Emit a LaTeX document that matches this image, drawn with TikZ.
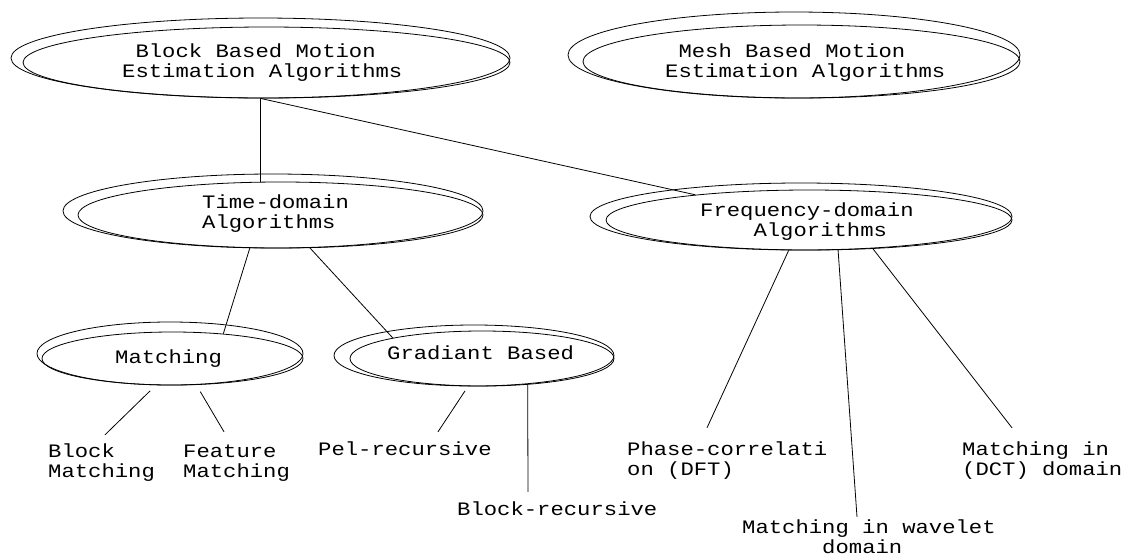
\documentclass[tikz,border=0pt]{standalone}
\usepackage{fontspec}
\usetikzlibrary{shapes.geometric}
\newfontfamily\lblfont{Liberation Mono}[FakeStretch=1.17]
\newcommand\txtrows[1]{\begin{tabular}[t]{@{}l@{}}#1\end{tabular}}
\tikzset{
  ell/.style={draw, ellipse, inner sep=0pt, line width=0.8pt},
  lbl/.style={anchor=base west, inner sep=0pt, font=\lblfont\fontsize{19}{20}\selectfont},
  link/.style={line width=0.8pt},
}
\begin{document}
\begin{tikzpicture}[x=1pt,y=-1pt]
\useasboundingbox (0,0) rectangle (1128,558);

% double ellipses: outer ring and inner ring
\node[ell, minimum width=499pt, minimum height=80pt] (A)  at (260.5,58) {};
\node[ell, minimum width=487pt, minimum height=71pt] (Ai) at (266.5,62.5) {};
\node[ell, minimum width=452pt, minimum height=86pt] (B)  at (794,55) {};
\node[ell, minimum width=437pt, minimum height=73pt] (Bi) at (801.5,61.5) {};
\node[ell, minimum width=420pt, minimum height=74pt] (C)  at (273,211) {};
\node[ell, minimum width=405pt, minimum height=66pt] (Ci) at (280.5,215) {};
\node[ell, minimum width=422pt, minimum height=67pt] (D)  at (801,216.5) {};
\node[ell, minimum width=406pt, minimum height=60pt] (Di) at (809,220) {};
\node[ell, minimum width=266pt, minimum height=63pt] (E)  at (170,353.5) {};
\node[ell, minimum width=261pt, minimum height=53pt] (Ei) at (172.5,358.5) {};
\node[ell, minimum width=280pt, minimum height=61pt] (F)  at (474,355.5) {};
\node[ell, minimum width=264pt, minimum height=55pt] (Fi) at (482,358.5) {};

% ellipse texts
\node[lbl] (At) at (122,57) {\txtrows{\phantom{E}Block Based Motion\\Estimation Algorithms}};
\node[lbl] (Bt) at (665,57) {\txtrows{\phantom{E}Mesh Based Motion\\Estimation Algorithms}};
\node[lbl] (Ct) at (202,208) {\txtrows{Time-domain\\Algorithms}};
\node[lbl] (Dt) at (700,216) {\txtrows{Frequency-domain\\\phantom{XXXX}Algorithms}};
\node[lbl] (Et) at (115,363) {\txtrows{Matching}};
\node[lbl] (Ft) at (387,359) {\txtrows{Gradiant Based}};

% leaf texts
\node[lbl] (bm)   at (48,457)  {\txtrows{Block\\Matching}};
\node[lbl] (fm)   at (183,457) {\txtrows{Feature\\Matching}};
\node[lbl] (pel)  at (318,455) {\txtrows{Pel-recursive}};
\node[lbl] (brec) at (457,515) {\txtrows{Block-recursive}};
\node[lbl] (ph)   at (627,455) {\txtrows{Phase-correlati\\on (DFT)}};
\node[lbl] (wav)  at (742,533) {\txtrows{Matching in wavelet\\\phantom{XXXXXX}domain}};
\node[lbl] (dct)  at (962,455) {\txtrows{Matching in\\(DCT) domain}};

% connectors
\draw[link] (A.south) -- (Ci.121);
\draw[link] (A.south) -- (Di);
\draw[link] (C.238) -- (Ei.26);
\draw[link] (C.315) -- (Fi.167);
\draw[link, shorten <=8pt] (E.246) -- ([xshift=57pt,yshift=8pt]bm.north west);
\draw[link, shorten <=8pt] (E.310) -- ([xshift=41pt,yshift=11pt]fm.north west);
\draw[link, shorten <=5.5pt] (F.259) -- ([xshift=120pt,yshift=9pt]pel.north west);
\draw[link] (F.332) -- ([xshift=71pt,yshift=9pt]brec.north west);
\draw[link] (D.250) -- ([xshift=80pt,yshift=13pt]ph.north west);
\draw[link] (D.318) -- ([xshift=115pt,yshift=2pt]wav.north west);
\draw[link] (D.336) -- ([xshift=50pt,yshift=13pt]dct.north west);
\end{tikzpicture}
\end{document}
